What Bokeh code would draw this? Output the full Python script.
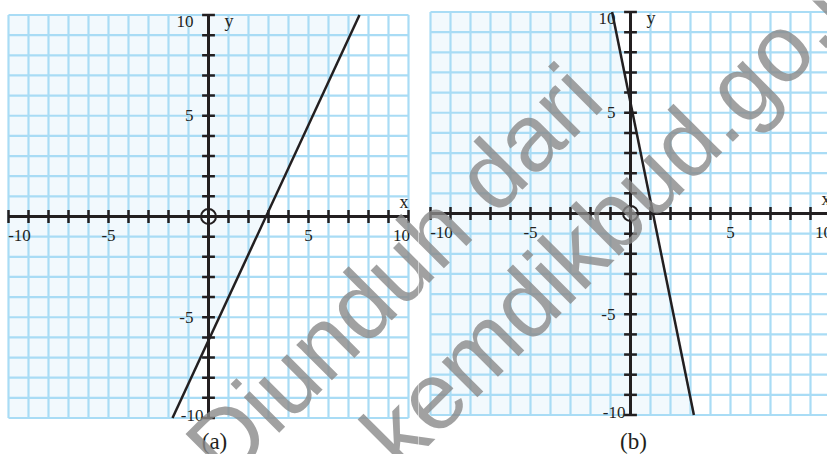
import math
from bokeh.plotting import figure
from bokeh.layouts import row
from bokeh.models import Label, Range1d
from bokeh.core.properties import value
from bokeh.embed import file_html
from bokeh.resources import INLINE

# ---------------- data ----------------
grid_values = list(range(-10, 11))                 # grid lines at every unit
tick_values = [v for v in grid_values if v != 0]   # axis ticks
x_tick_labels = ["-10", "-5", "5", "10"]
x_tick_label_values = [-10, -5, 5, 10]
y_tick_labels = ["10", "5", "-5", "-10"]
y_tick_label_values = [10, 5, -5, -10]

# line of graph (a): endpoints
line_a_x = [-1.8, 7.55]
line_a_y = [-10, 10]
# line of graph (b)
line_b_x = [-0.92, 3.17]
line_b_y = [10, -10]

captions = ["(a)", "(b)"]
watermark_lines = ["Diunduh dari", "kemdikbud.go.id"]

# ---------------- style ----------------
INK = "#231f20"
GRID = "#a9dcf5"
SHADE = "#f2f9fd"
SERIF = "Liberation Serif"
SANS = "Liberation Sans"
SX, SY = 20.0, 20.15      # pixels per unit
H = 454
PAGE_Y0 = 0
CAPTION_PAGE_Y = 440.5

# page positions of the watermark text baselines (page pixels)
wm_page = [(202.5, 462.0), (378.0, 449.0)]


def panel(left_px, width, ox, oy, lx, ly, caption, cap_dx, right10_dx):
    """ox, oy: page pixel of data origin."""
    xr = Range1d((left_px - ox) / SX, (left_px + width - ox) / SX)
    yr = Range1d((oy - (PAGE_Y0 + H)) / SY, (oy - PAGE_Y0) / SY)
    p = figure(width=width, height=H, x_range=xr, y_range=yr,
               x_axis_type=None, y_axis_type=None, toolbar_location=None,
               output_backend="svg", min_border=0, outline_line_color=None,
               background_fill_color="white", border_fill_color="white")
    p.grid.visible = False

    lo, hi = grid_values[0], grid_values[-1]
    # shaded half plane (left of the line)
    if ly[0] > ly[1]:
        top_x, bot_x = lx[0], lx[1]
    else:
        top_x, bot_x = lx[1], lx[0]
    p.patch([lo, top_x, bot_x, lo], [hi, hi, lo, lo],
            fill_color=SHADE, line_color=None)

    # grid
    p.segment(x0=grid_values, y0=[lo] * len(grid_values),
              x1=grid_values, y1=[hi] * len(grid_values),
              line_color=GRID, line_width=2.2)
    p.segment(x0=[lo] * len(grid_values), y0=grid_values,
              x1=[hi] * len(grid_values), y1=grid_values,
              line_color=GRID, line_width=2.2)

    # axes
    p.segment(x0=[lo, 0], y0=[0, lo], x1=[hi, 0], y1=[0, hi],
              line_color=INK, line_width=3)
    t = 0.32
    p.segment(x0=tick_values, y0=[-t] * len(tick_values),
              x1=tick_values, y1=[t] * len(tick_values),
              line_color=INK, line_width=2.5)
    p.segment(x0=[-t] * len(tick_values), y0=tick_values,
              x1=[t] * len(tick_values), y1=tick_values,
              line_color=INK, line_width=2.5)

    # the line
    p.line(lx, ly, line_color=INK, line_width=2.5)

    # origin circle
    p.scatter([0], [0], marker="circle", size=15, fill_alpha=0,
              line_color=INK, line_width=2)

    fs = "17px"
    # x tick labels (ends nudged inward)
    xpos = []
    for v in x_tick_label_values:
        if v == lo:
            xpos.append(v + 0.55)
        elif v == hi:
            xpos.append(v + right10_dx)
        else:
            xpos.append(v)
    p.text(x=xpos, y=[-0.95] * len(xpos), text=x_tick_labels,
           text_font=value(SERIF), text_font_size=fs, text_color=INK,
           text_align="center", text_baseline="middle")
    # y tick labels
    ypos = []
    yx = []
    for v in y_tick_label_values:
        ypos.append(v - 0.3 if v == hi else (v + 0.1 if v == lo else v))
        yx.append(-0.25 if v == lo else -0.75)
    p.text(x=yx, y=ypos, text=y_tick_labels,
           text_font=value(SERIF), text_font_size=fs, text_color=INK,
           text_align="right", text_baseline="middle")
    # axis names
    p.text(x=[0.8], y=[9.7], text=["y"], text_font=value(SERIF),
           text_font_size="18px", text_color=INK,
           text_align="left", text_baseline="middle")
    p.text(x=[hi], y=[0.7], text=["x"], text_font=value(SERIF),
           text_font_size="18px", text_color=INK,
           text_align="right", text_baseline="middle")
    # caption
    p.text(x=[cap_dx], y=[(oy - CAPTION_PAGE_Y) / SY], text=[caption],
           text_font=value(SERIF), text_font_size="23px", text_color=INK,
           text_align="center", text_baseline="middle")

    # watermark (drawn in each panel at the same page position)
    for txt, (px, py) in zip(watermark_lines, wm_page):
        p.add_layout(Label(x=(px - ox) / SX, y=(oy - py) / SY, text=txt,
                           angle=math.pi / 4, text_font=SANS,
                           text_font_size="95px", text_color="#8a8a8a",
                           text_alpha=0.8, text_align="left",
                           text_baseline="alphabetic"))
    return p


p1 = panel(0, 418, 208, 216, line_a_x, line_a_y, captions[0], 0.3, -0.35)
p2 = panel(418, 409, 630, 213, line_b_x, line_b_y, captions[1], 0.15, -0.35)

layout = row(p1, p2, spacing=0)
open("out.html", "w").write(file_html(layout, INLINE))
